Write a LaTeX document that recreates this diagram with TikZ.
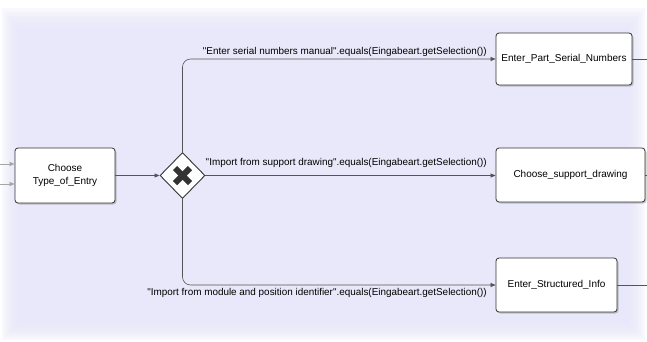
\documentclass[tikz,border=0pt]{standalone}
\usepackage{fontspec}
\setmainfont{Liberation Sans}[Ligatures=TeXOff]
\usetikzlibrary{arrows.meta,shapes.geometric,shadows}
\definecolor{bg}{RGB}{232,232,250}
\definecolor{edge}{RGB}{85,85,85}
\begin{document}
\begin{tikzpicture}[x=1pt,y=-1pt,
  task/.style={draw=black!80, fill=white, rounded corners=3pt, line width=0.8pt,
    inner sep=0pt, font=\fontsize{10}{12.5}\selectfont, align=center,
    drop shadow={shadow xshift=1.5pt, shadow yshift=-1.5pt, opacity=0.35, fill=black!60}},
  gate/.style={diamond, draw=black!80, fill=white, line width=0.9pt, inner sep=0pt,
    minimum width=45pt, minimum height=46pt},
  flow/.style={draw=edge, line width=0.6pt, rounded corners=8pt,
    -{Triangle[length=5pt,width=4pt]}},
  inflow/.style={draw=gray!70, line width=0.6pt, -{Triangle[length=5pt,width=4pt]}},
  outflow/.style={draw=edge, line width=0.6pt},
  cond/.style={font=\fontsize{9.9}{12}\selectfont, inner sep=1pt, anchor=east}]
\useasboundingbox (0,0) rectangle (647,341);
\fill[white] (0,0) rectangle (647,341);
\foreach \i in {0,...,7}
  \fill[bg, opacity=0.22] (2+\i*2, 8+\i*2.5) rectangle (645-\i*2, 340-\i*2);
\fill[bg] (18,28) rectangle (629,324);

\node[task, minimum width=100pt, minimum height=55pt] (t0) at (65,175.5) {Choose\\Type\_of\_Entry};
\node[gate] (gw) at (182.5,175.5) {};
\draw[line width=6pt, black!80] ([shift={(-7.5,-7.5)}]gw.center) -- ([shift={(7.5,7.5)}]gw.center);
\draw[line width=6pt, black!80] ([shift={(-7.5,7.5)}]gw.center) -- ([shift={(7.5,-7.5)}]gw.center);

\node[task, minimum width=136pt, minimum height=52pt] (t1) at (564,59) {Enter\_Part\_Serial\_Numbers};
\node[task, minimum width=149pt, minimum height=54pt] (t2) at (570.5,175) {Choose\_support\_drawing};
\node[task, minimum width=121pt, minimum height=54pt] (t3) at (556.5,285) {Enter\_Structured\_Info};

\coordinate (in1) at (0,164);
\coordinate (in2) at (0,184);
\coordinate (o1) at (647,59);
\coordinate (o2) at (647,175);
\coordinate (o3) at (647,284);

\draw[inflow] (in1) -- (in1 -| t0.west);
\draw[inflow] (in2) -- (in2 -| t0.west);
\draw[flow] (t0.east |- gw) -- (gw.west);
\draw[flow] (gw.north) |- (t1.west);
\draw[flow] (gw.east) -- (gw.east -| t2.west);
\draw[flow] (gw.south) |- (t3.west);
\draw[outflow] (t1.east) -- (o1);
\draw[outflow] (t2.east) -- (o2);
\draw[outflow] (t3.east) -- (t3.east -| o3);

\node[cond] (c1) at (488,52) {"Enter serial numbers manual".equals(Eingabeart.getSelection())};
\node[cond] (c2) at (488,163) {"Import from support drawing".equals(Eingabeart.getSelection())};
\node[cond] (c3) at (488,293) {"Import from module and position identifier".equals(Eingabeart.getSelection())};
\end{tikzpicture}
\end{document}
